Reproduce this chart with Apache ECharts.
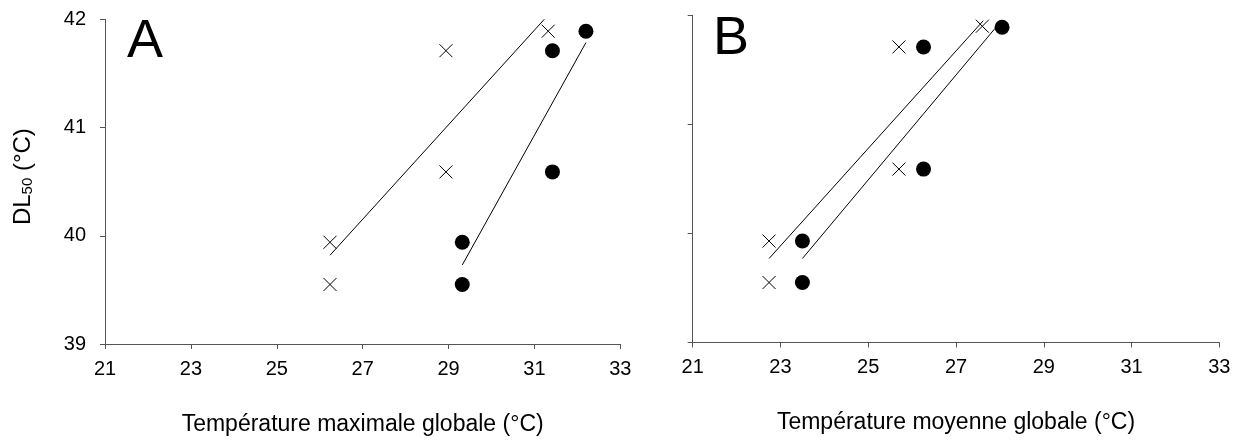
<!DOCTYPE html>
<html>
<head>
<meta charset="utf-8">
<script src="https://cdn.jsdelivr.net/npm/echarts@6/dist/echarts.min.js"></script>
<style>
html,body{margin:0;padding:0;background:#fff;}
#c{width:1236px;height:441px;}
</style>
</head>
<body>
<div id="c"></div>
<script>
// ---- data ----
const xTickValues = [21, 23, 25, 27, 29, 31, 33];
const yTickValues = [39, 40, 41, 42];
const panelLabels = ['A', 'B'];
const xTitles = ['Température maximale globale (°C)', 'Température moyenne globale (°C)'];

const aCrossX = [26.24, 26.24, 28.94, 28.94, 31.32];
const aCrossY = [39.94, 39.55, 41.71, 40.59, 41.89];
const aDotX = [29.32, 29.32, 31.42, 31.42, 32.20];
const aDotY = [39.94, 39.55, 41.71, 40.59, 41.89];
const aCrossFitX = [26.24, 31.23];
const aCrossFitY = [39.82, 42.00];
const aDotFitX = [29.32, 32.20];
const aDotFitY = [39.73, 41.785];

const bCrossX = [22.74, 22.74, 25.70, 25.70, 27.60];
const bCrossY = [39.93, 39.55, 41.71, 40.59, 41.90];
const bDotX = [23.50, 23.50, 26.26, 26.26, 28.05];
const bDotY = [39.93, 39.55, 41.71, 40.59, 41.89];
const bCrossFitX = [22.74, 27.62];
const bCrossFitY = [39.77, 41.95];
const bDotFitX = [23.50, 27.89];
const bDotFitY = [39.77, 41.88];

// ---- helpers ----
const zip = (xs, ys) => xs.map((x, i) => [x, ys[i]]);
const AXIS = '#555555';
const FONT = 'Liberation Sans, Arial, sans-serif';
const CROSS = 'path://M0,0L10,10M10,0L0,10';

function xAxisFor(gi) {
  return {
    type: 'value', gridIndex: gi, min: xTickValues[0], max: xTickValues[xTickValues.length - 1], interval: 2,
    axisLine: {show: true, onZero: false, lineStyle: {color: AXIS, width: 1}},
    axisTick: {show: true, length: 5, lineStyle: {color: AXIS}},
    axisLabel: {color: '#000', fontSize: 20, fontFamily: FONT, margin: 15},
    splitLine: {show: false},
    name: xTitles[gi], nameLocation: 'middle', nameGap: 69,
    nameTextStyle: {color: '#000', fontSize: 23, fontFamily: FONT}
  };
}
function yAxisFor(gi) {
  const ax = {
    type: 'value', gridIndex: gi, min: yTickValues[0], max: yTickValues[yTickValues.length - 1], interval: 1,
    axisLine: {show: true, onZero: false, lineStyle: {color: AXIS, width: 1}},
    axisTick: {show: true, length: 5, lineStyle: {color: AXIS}},
    axisLabel: {show: gi === 0, color: '#000', fontSize: 20, fontFamily: FONT, margin: 19},
    splitLine: {show: false}
  };
  if (gi === 0) {
    ax.name = '{a|DL}{b|50}{a| (°C)}';
    ax.nameLocation = 'middle';
    ax.nameRotate = 90;
    ax.nameGap = 70;
    ax.nameTextStyle = {
      padding: [0, 0, 0, 10],
      rich: {
        a: {fontSize: 24, fontFamily: FONT, color: '#000', lineHeight: 28, verticalAlign: 'bottom'},
        b: {fontSize: 15, fontFamily: FONT, color: '#000', lineHeight: 15, verticalAlign: 'bottom'}
      }
    };
  }
  return ax;
}
function crossSeries(gi, xs, ys) {
  return {type: 'scatter', xAxisIndex: gi, yAxisIndex: gi, data: zip(xs, ys), symbol: CROSS, symbolSize: 13,
    itemStyle: {color: 'rgba(0,0,0,0)', borderColor: '#000', borderWidth: 1, opacity: 1}, z: 3, silent: true};
}
function dotSeries(gi, xs, ys) {
  return {type: 'scatter', xAxisIndex: gi, yAxisIndex: gi, data: zip(xs, ys), symbol: 'circle', symbolSize: 15,
    itemStyle: {color: '#000', opacity: 1}, z: 3, silent: true};
}
function fitSeries(gi, xs, ys) {
  return {type: 'line', xAxisIndex: gi, yAxisIndex: gi, data: zip(xs, ys), symbol: 'none',
    lineStyle: {color: '#000', width: 1}, z: 2, silent: true, animation: false};
}

const chart = echarts.init(document.getElementById('c'), null, {renderer: 'canvas'});
chart.setOption({
  animation: false,
  backgroundColor: '#fff',
  grid: [
    {left: 105, top: 19.3, width: 515.3, height: 326.4},
    {left: 692.7, top: 15.3, width: 526.6, height: 327.2}
  ],
  xAxis: [xAxisFor(0), xAxisFor(1)],
  yAxis: [yAxisFor(0), yAxisFor(1)],
  graphic: [
    {type: 'text', left: 127, top: 15, style: {text: panelLabels[0], fontSize: 54, fontFamily: FONT, fill: '#000'}},
    {type: 'text', left: 713, top: 12, style: {text: panelLabels[1], fontSize: 54, fontFamily: FONT, fill: '#000'}}
  ],
  series: [
    fitSeries(0, aCrossFitX, aCrossFitY),
    fitSeries(0, aDotFitX, aDotFitY),
    crossSeries(0, aCrossX, aCrossY),
    dotSeries(0, aDotX, aDotY),
    fitSeries(1, bCrossFitX, bCrossFitY),
    fitSeries(1, bDotFitX, bDotFitY),
    crossSeries(1, bCrossX, bCrossY),
    dotSeries(1, bDotX, bDotY)
  ]
});
</script>
</body>
</html>
